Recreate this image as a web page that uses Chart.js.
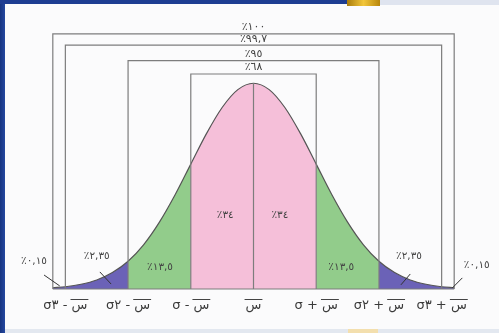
<!DOCTYPE html>
<html><head><meta charset="utf-8">
<script src="https://cdn.jsdelivr.net/npm/chart.js@4"></script>
<style>
html,body{margin:0;padding:0;background:#fff;}
#wrap{position:relative;width:499px;height:333px;overflow:hidden;background:#fbfbfc;}
.bl{position:absolute;left:0;top:0;width:5px;height:333px;background:linear-gradient(90deg,#173480,#2448a0);}
.bt{position:absolute;left:0;top:0;width:347px;height:4px;background:#1e3d92;}
.gt{position:absolute;left:347px;top:0;width:33px;height:6px;background:linear-gradient(90deg,#a97c0c,#f2c63a,#b8860b);}
.rt{position:absolute;left:380px;top:0;width:119px;height:5px;background:#dfe4ef;}
.bb{position:absolute;left:5px;top:329px;width:494px;height:4px;background:#e3e8f0;}
.gb{position:absolute;left:348px;top:329px;width:30px;height:4px;background:#f3dfae;}
canvas{position:absolute;left:0;top:0;}
</style>
</head><body>
<div id="wrap">
<div class="bl"></div><div class="bt"></div><div class="gt"></div><div class="rt"></div><div class="bb"></div><div class="gb"></div>
<canvas id="c" width="499" height="333"></canvas>
</div>
<script>
// positions along the axis, in standard deviations
const sigmaSteps = [-3.2,-3,-2.75,-2.5,-2.25,-2,-1.75,-1.5,-1.25,-1,-0.75,-0.5,-0.25,0,0.25,0.5,0.75,1,1.25,1.5,1.75,2,2.25,2.5,2.75,3,3.2];
// curve heights (peak = 100)
const curveHeights = [0.6,1.1,2.3,4.4,8,13.5,21.6,32.5,45.8,60.7,75.5,88.2,96.9,100,96.9,88.2,75.5,60.7,45.8,32.5,21.6,13.5,8,4.4,2.3,1.1,0.6];
// axis ticks and labels
const tickValues = [-3,-2,-1,0,1,2,3];
const tickLabels = ['σ٣ - س','σ٢ - س','σ - س','س','σ + س','σ٢ + س','σ٣ + س'];
// brackets
const bracketPercents = ['٪١٠٠','٪٩٩,٧','٪٩٥','٪٦٨'];
const bracketHalfWidths = [3.2,3,2,1];
const bracketTops = [124,118.5,111,104.5];
// region percentages
const regionPercents = ['٪٣٤','٪٣٤','٪١٣,٥','٪١٣,٥','٪٢,٣٥','٪٢,٣٥','٪٠,١٥','٪٠,١٥'];

const LRO = '\u202D', PDF = '\u202C';
const regionTextPos = [[-0.45,35.6],[0.42,35.6],[-1.49,10.7],[1.40,10.7],[-2.50,16.1],[2.48,16.1],[-3.50,13.7],[3.56,11.7]];
const leaders = [[-2.45,8.3,-2.27,2.4],[2.50,7.3,2.35,2.0],[-3.34,6.8,-3.09,1.5],[3.33,5.4,3.17,0.5]];
const TICK_FONT = '13px "DejaVu Sans"';

const colorFor = (m) => {
  const a = Math.abs(m);
  if (a < 1) return '#f5bfd9';
  if (a < 2) return '#92cc8b';
  return '#6b62b7';
};

const decor = {
  id: 'decor',
  afterDatasetsDraw(chart) {
    const {ctx, scales:{x, y}} = chart;
    ctx.save();
    ctx.strokeStyle = '#7d7d7d';
    ctx.lineWidth = 1.2;
    const y0 = y.getPixelForValue(0);
    ctx.beginPath();
    ctx.moveTo(x.getPixelForValue(-3.2), y0);
    ctx.lineTo(x.getPixelForValue(3.2), y0);
    ctx.stroke();
    bracketHalfWidths.forEach((hw, i) => {
      const xl = x.getPixelForValue(-hw), xr = x.getPixelForValue(hw);
      const yt = y.getPixelForValue(bracketTops[i]);
      ctx.beginPath();
      ctx.moveTo(xl, y0); ctx.lineTo(xl, yt); ctx.lineTo(xr, yt); ctx.lineTo(xr, y0);
      ctx.stroke();
    });
    ctx.beginPath();
    ctx.moveTo(x.getPixelForValue(0), y.getPixelForValue(100));
    ctx.lineTo(x.getPixelForValue(0), y0);
    ctx.stroke();
    ctx.strokeStyle = '#333';
    ctx.lineWidth = 1;
    leaders.forEach(l => {
      ctx.beginPath();
      ctx.moveTo(x.getPixelForValue(l[0]), y.getPixelForValue(l[1]));
      ctx.lineTo(x.getPixelForValue(l[2]), y.getPixelForValue(l[3]));
      ctx.stroke();
    });
    ctx.fillStyle = '#444';
    ctx.font = '11px "DejaVu Sans"';
    ctx.textAlign = 'center';
    ctx.textBaseline = 'middle';
    bracketPercents.forEach((t, i) => {
      ctx.fillText(LRO + t + PDF, x.getPixelForValue(0), y.getPixelForValue(bracketTops[i]) - 6.5);
    });
    ctx.font = '10.5px "DejaVu Sans"';
    regionPercents.forEach((t, i) => {
      const p = regionTextPos[i];
      ctx.fillText(LRO + t + PDF, x.getPixelForValue(p[0]), y.getPixelForValue(p[1]));
    });
    ctx.restore();
  },
  afterDraw(chart) {
    const {ctx, scales:{x}} = chart;
    ctx.save();
    ctx.font = TICK_FONT;
    ctx.strokeStyle = '#444';
    ctx.lineWidth = 1;
    const yLine = x.top + 10.5;
    tickValues.forEach((v, i) => {
      const t = tickLabels[i];
      const total = ctx.measureText(LRO + t + PDF).width;
      const k = t.indexOf('س');
      const pre = ctx.measureText(LRO + t.slice(0, k) + PDF).width;
      const w = ctx.measureText('س').width;
      const x0 = x.getPixelForValue(v) - total / 2 + pre;
      ctx.beginPath();
      ctx.moveTo(x0 - 1, yLine);
      ctx.lineTo(x0 + w + 1, yLine);
      ctx.stroke();
    });
    ctx.restore();
  }
};

new Chart(document.getElementById('c'), {
  type: 'line',
  data: {
    labels: sigmaSteps,
    datasets: [{
      data: sigmaSteps.map((s, i) => ({x: s, y: curveHeights[i]})),
      borderColor: '#555',
      borderWidth: 1.2,
      pointRadius: 0,
      cubicInterpolationMode: 'monotone',
      fill: 'origin',
      backgroundColor: '#f5bfd9',
      segment: {
        backgroundColor: ctx => colorFor((ctx.p0.parsed.x + ctx.p1.parsed.x) / 2)
      }
    }]
  },
  options: {
    responsive: false,
    animation: false,
    layout: {padding: {left: 34, right: 26, top: 17.4, bottom: 10.4}},
    plugins: {legend: {display: false}, tooltip: {enabled: false}},
    scales: {
      x: {
        type: 'linear', min: -3.5, max: 3.5,
        grid: {display: false, drawTicks: false},
        border: {display: false},
        afterBuildTicks: s => { s.ticks = tickValues.map(v => ({value: v})); },
        ticks: {
          autoSkip: false, maxRotation: 0, padding: 9,
          color: '#3a3a3a',
          font: {family: 'DejaVu Sans', size: 13},
          callback: (v) => { const i = tickValues.indexOf(v); return i < 0 ? '' : LRO + tickLabels[i] + PDF; }
        }
      },
      y: {type: 'linear', min: 0, max: 132, display: false}
    }
  },
  plugins: [decor]
});
</script>
</body></html>
